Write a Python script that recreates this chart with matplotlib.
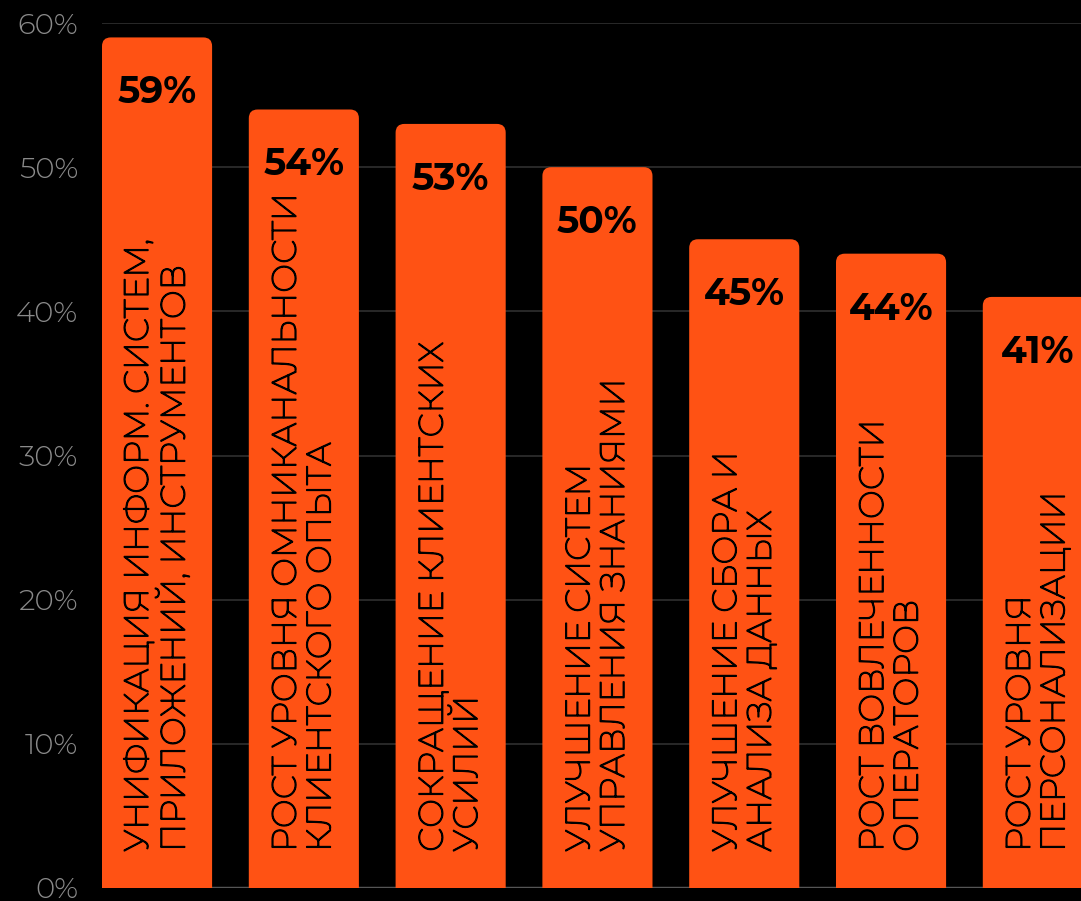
import matplotlib.pyplot as plt
import matplotlib.patheffects as pe
from matplotlib.patches import FancyBboxPatch

'''
Bar chart of improvement areas, share of respondents.
'''

categories = [
    "УНИФИКАЦИЯ ИНФОРМ. СИСТЕМ,\nПРИЛОЖЕНИЙ, ИНСТРУМЕНТОВ",
    "РОСТ УРОВНЯ ОМНИКАНАЛЬНОСТИ\nКЛИЕНТСКОГО ОПЫТА",
    "СОКРАЩЕНИЕ КЛИЕНТСКИХ\nУСИЛИЙ",
    "УЛУЧШЕНИЕ СИСТЕМ\nУПРАВЛЕНИЯ ЗНАНИЯМИ",
    "УЛУЧШЕНИЕ СБОРА И\nАНАЛИЗА ДАННЫХ",
    "РОСТ ВОВЛЕЧЕННОСТИ\nОПЕРАТОРОВ",
    "РОСТ УРОВНЯ\nПЕРСОНАЛИЗАЦИИ",
]
values = [59, 54, 53, 50, 45, 44, 41]
yticks = [0, 10, 20, 30, 40, 50, 60]

BG = '#000000'
BAR = '#FF5214'
W = 0.75

# static weights for digits; plain Montserrat (thin) is thickened with a stroke for Cyrillic
NUM_FONT = ['Montserrat Alternates', 'DejaVu Sans']
TXT_FONT = ['Montserrat', 'DejaVu Sans']

fig = plt.figure(figsize=(10.81, 9.01), dpi=100, facecolor=BG)
ax = fig.add_axes([102 / 1081, 13 / 901, 1 - 102 / 1081, 865 / 901])
ax.set_facecolor(BG)

ax.set_xlim(-W / 2, 6.294)
ax.set_ylim(0, 60)

# gridlines behind the bars
ax.set_yticks(yticks)
ax.set_yticklabels(['%d%%' % t for t in yticks], family=NUM_FONT, fontweight=300)
ax.yaxis.grid(True, color='#303030', linewidth=1.2)
ax.set_axisbelow(True)
ax.tick_params(axis='y', length=0, pad=17, labelsize=21, labelcolor='#8a8a8a')
ax.set_xticks([])
for s in ax.spines.values():
    s.set_visible(False)
ax.axhline(0, color='#555555', linewidth=2.5, zorder=1)

# rounded bar tops; bottoms pushed below zero so only the top corners show
aspect = (60 / 865) / ((6.294 + W / 2) / 979)
for i, v in enumerate(values):
    p = FancyBboxPatch((i - W / 2, -3), W, v + 3,
                       boxstyle='round,pad=0,rounding_size=0.06',
                       mutation_aspect=aspect,
                       facecolor=BAR, edgecolor='none', zorder=2)
    ax.add_patch(p)
    ax.annotate('%d%%' % v, (i, v), xytext=(0, -39.5), textcoords='offset points',
                ha='center', va='center', fontsize=27, fontweight=700,
                family=NUM_FONT, color='black', zorder=3)
    t = ax.annotate(categories[i], (i, 0), xytext=(0, 26), textcoords='offset points',
                    rotation=90, ha='center', va='bottom', multialignment='left',
                    fontsize=24.3, family=TXT_FONT, color='black',
                    linespacing=1.08, zorder=3)
    t.set_path_effects([pe.withStroke(linewidth=1.1, foreground='black')])

plt.savefig('out.png', dpi=100, facecolor=BG)
